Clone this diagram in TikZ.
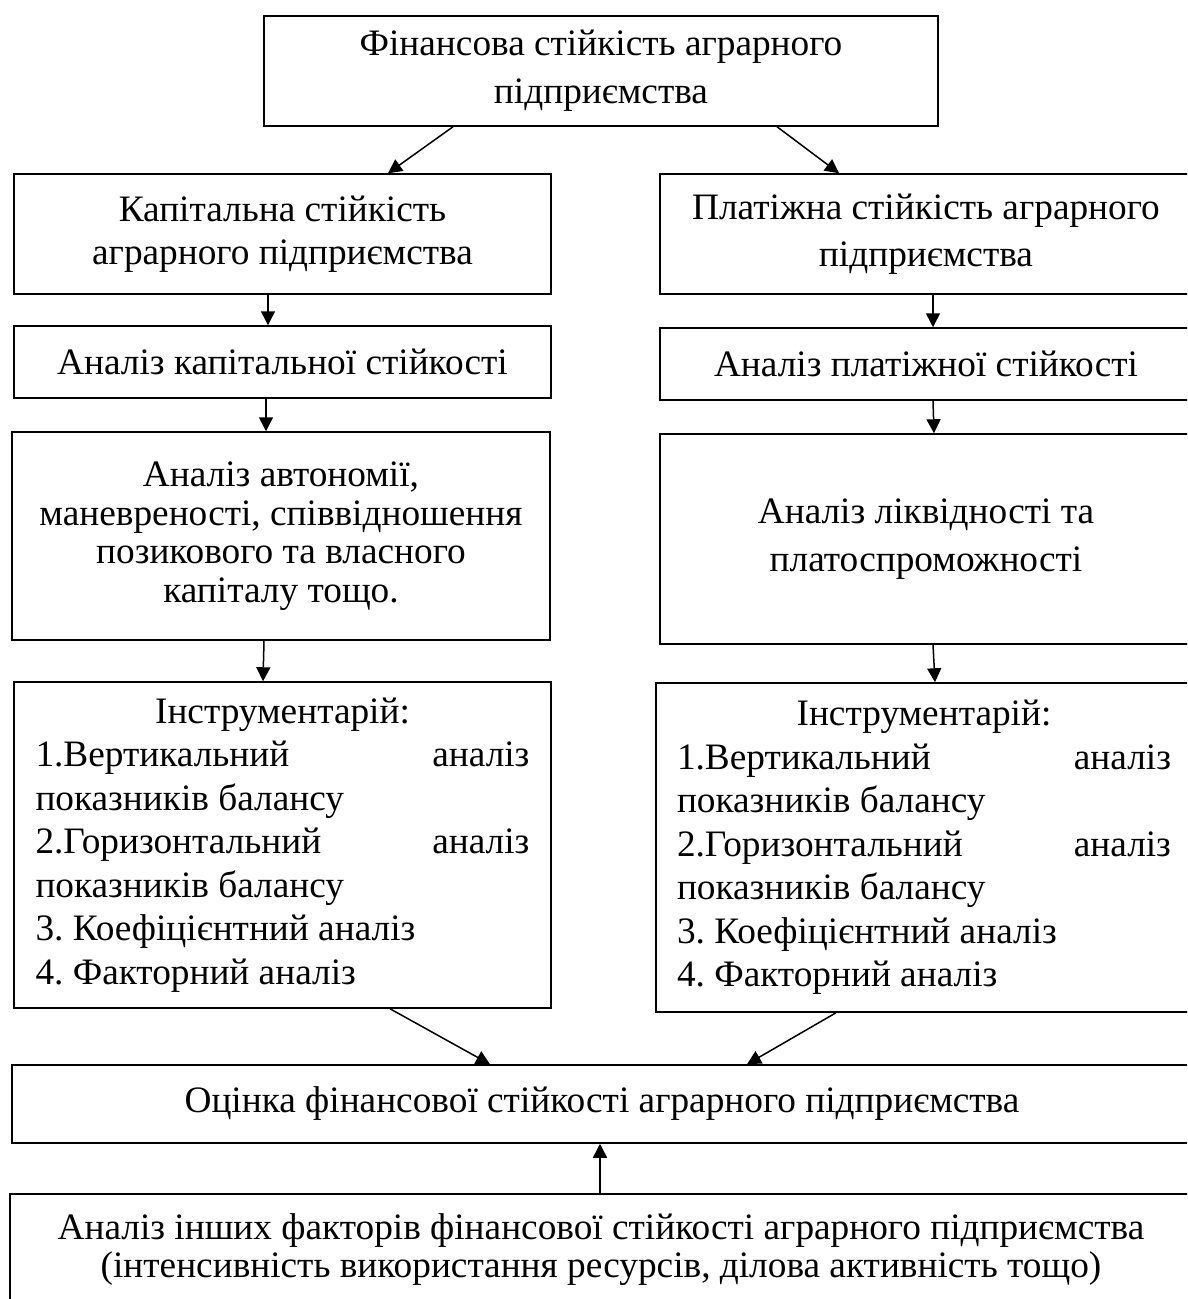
\documentclass[tikz,border=0pt]{standalone}
\usepackage{fontspec}
\setmainfont{Liberation Serif}
\usetikzlibrary{arrows.meta}
\frenchspacing
\tikzset{
	blk/.style={draw, line width=1.5pt, rectangle, align=center, inner sep=0pt},
	zeile/.style={font=\fontsize{37.3}{#1}\selectfont},
	pfeil/.style={line width=1.5pt, -{Triangle[length=14pt,width=14pt]}},
	werkz/.style={blk, zeile=43.5, align=flush left, text width=494pt, inner xsep=21pt}
}
\begin{document}
\begin{tikzpicture}[x=1pt, y=-1pt]
	\useasboundingbox (0,0) rectangle (1187,1299);
	\clip (0,0) rectangle (1187,1299);

	% Kasten oben
	\node[blk, zeile=48, minimum width=674pt, minimum height=110pt] (fin) at (601,71) {Фінансова стійкість аграрного\\підприємства};

	% linke Spalte
	\node[blk, zeile=43, minimum width=537pt, minimum height=120pt] (kap) at (282.5,234) {Капітальна стійкість\\аграрного підприємства};
	\node[blk, zeile=43, minimum width=537pt, minimum height=72pt] (kapan) at (282.5,362) {Аналіз капітальної стійкості};
	\node[blk, zeile=38.5, minimum width=538pt, minimum height=208pt] (auto) at (281,536) {Аналіз автономії,\\маневреності, співвідношення\\позикового та власного\\капіталу тощо.};
	\node[werkz, minimum width=537pt, minimum height=326pt] (werkl) at (282.5,845) {\makebox[\linewidth]{Інструментарій:}\\
		\makebox[\linewidth][s]{1.Вертикальний\hfill аналіз}\\
		показників балансу\\
		\makebox[\linewidth][s]{2.Горизонтальний\hfill аналіз}\\
		показників балансу\\
		3. Коефіцієнтний аналіз\\
		4. Факторний аналіз};

	% rechte Spalte
	\node[blk, zeile=47, minimum width=532pt, minimum height=120pt] (plat) at (926,234) {Платіжна стійкість аграрного\\підприємства};
	\node[blk, zeile=43, minimum width=532pt, minimum height=72pt] (platan) at (926,364) {Аналіз платіжної стійкості};
	\node[blk, zeile=48, minimum width=532pt, minimum height=210pt] (liq) at (926,539) {Аналіз ліквідності та\\платоспроможності};
	\node[werkz, minimum width=536pt, minimum height=329pt] (werkr) at (924,847.5) {\makebox[\linewidth]{Інструментарій:}\\
		\makebox[\linewidth][s]{1.Вертикальний\hfill аналіз}\\
		показників балансу\\
		\makebox[\linewidth][s]{2.Горизонтальний\hfill аналіз}\\
		показників балансу\\
		3. Коефіцієнтний аналіз\\
		4. Факторний аналіз};

	% unten
	\node[blk, zeile=43, minimum width=1180pt, minimum height=78pt] (bew) at (602,1104) {Оцінка фінансової стійкості аграрного підприємства};
	\node[blk, zeile=38, minimum width=1182pt, minimum height=111pt] (and) at (601,1249.5) {Аналіз інших факторів фінансової стійкості аграрного підприємства\\(інтенсивність використання ресурсів, ділова активність тощо)};

	% Pfeile
	\draw[pfeil] (fin.south -| 453,0) -- (kap.north -| 388,0);
	\draw[pfeil] (fin.south -| 777,0) -- (plat.north -| 839,0);
	\draw[pfeil] (kap.south -| 268,0) -- (kapan.north -| 268,0);
	\draw[pfeil] (plat.south -| 933,0) -- (platan.north -| 933,0);
	\draw[pfeil] (kapan.south -| 266,0) -- (auto.north -| 266,0);
	\draw[pfeil] (platan.south -| 933,0) -- (liq.north -| 934,0);
	\draw[pfeil] (auto.south -| 264,0) -- (werkl.north -| 263,0);
	\draw[pfeil] (liq.south -| 933,0) -- (werkr.north -| 935,0);
	\draw[pfeil] (werkl.south -| 390,0) -- (bew.north -| 490,0);
	\draw[pfeil] (werkr.south -| 836,0) -- (bew.north -| 747,0);
	\draw[pfeil] (and.north -| 600,0) -- (bew.south -| 600,0);
\end{tikzpicture}
\end{document}
